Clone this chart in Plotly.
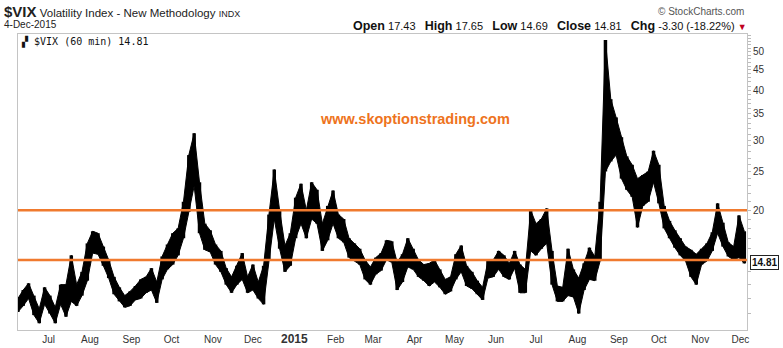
import pandas as pd
import plotly.graph_objects as go
import math

# ---- data ----
dates = pd.date_range("2014-06-08", periods=137, freq="4D")
vix_high = [12.0,12.6,13.1,12.2,11.3,12.8,12.2,11.4,13.0,13.0,
            15.4,13.0,14.0,16.5,17.7,17.5,16.2,15.0,13.6,12.8,
            12.2,12.5,12.9,13.4,13.6,14.3,13.2,15.3,16.4,17.5,
            18.0,21.0,27.5,31.2,23.5,18.5,17.8,16.4,15.8,14.3,
            13.6,14.5,15.6,13.6,14.6,13.2,14.5,19.5,25.3,20.0,
            16.3,17.5,21.5,23.3,20.0,23.5,22.5,18.5,20.5,22.4,
            19.5,19.0,17.0,16.5,16.0,15.0,14.4,15.2,15.6,16.8,
            16.7,14.8,15.5,17.0,16.0,15.0,14.6,14.7,15.0,14.2,
            13.4,13.6,15.5,16.3,14.5,14.0,13.3,12.8,14.9,15.0,
            15.8,15.4,14.7,15.8,14.6,14.2,20.0,18.5,19.0,20.2,
            15.8,12.9,12.8,16.0,14.2,13.5,14.7,16.1,15.3,21.0,
            53.5,38.0,34.2,30.5,27.3,26.0,24.0,24.5,25.0,28.2,
            26.0,20.5,18.8,17.8,17.0,16.2,15.9,15.5,16.0,16.5,
            17.6,20.8,18.6,16.6,16.2,19.4,17.7]
vix_low = [11.1,11.5,12.0,10.9,10.4,11.6,11.0,10.4,11.6,10.8,
           11.8,11.5,12.2,13.3,15.6,15.5,14.5,13.5,12.3,11.8,
           11.4,11.5,11.9,12.0,12.4,12.6,11.7,13.4,14.2,14.6,
           15.4,17.0,19.8,23.0,17.5,15.9,15.7,14.6,14.0,13.0,
           12.4,13.0,13.4,12.4,12.6,12.0,11.6,15.0,19.0,16.0,
           14.0,14.5,17.0,18.5,17.0,19.0,18.5,15.8,16.8,18.5,
           17.0,16.6,15.2,14.9,14.6,13.4,13.0,13.8,14.1,15.0,
           14.8,12.6,13.2,14.4,14.2,13.6,13.3,12.9,13.2,12.8,
           12.3,12.5,13.4,14.0,12.9,12.7,12.3,11.9,13.5,13.6,
           14.2,13.6,13.4,14.3,12.4,12.4,15.8,15.4,16.0,16.5,
           13.0,11.8,11.8,12.2,12.1,11.0,12.6,13.4,13.3,14.9,
           25.0,26.5,27.5,24.0,22.5,21.6,18.1,20.5,21.0,23.5,
           20.8,18.0,17.0,16.1,15.4,14.9,13.6,13.0,14.6,14.9,
           15.8,17.5,16.2,15.3,15.0,15.2,14.7]
last_close = 14.81
levels = [20, 15]

month_ticks = ["2014-07-01","2014-08-01","2014-09-01","2014-10-01","2014-11-01","2014-12-01",
               "2015-01-01","2015-02-01","2015-03-01","2015-04-01","2015-05-01","2015-06-01",
               "2015-07-01","2015-08-01","2015-09-01","2015-10-01","2015-11-01","2015-12-01"]
month_labels = ["Jul","Aug","Sep","Oct","Nov","Dec",
                "<b><span style='font-size:12px'>2015</span></b>","Feb","Mar","Apr","May","Jun",
                "Jul","Aug","Sep","Oct","Nov","Dec"]
y_labeled = [20, 25, 30, 35, 40, 45, 50]
y_minor = [11, 12, 13, 14, 16, 17, 18, 19, 21, 22, 23, 24, 26, 27, 28, 29,
           31, 32, 33, 34, 36, 37, 38, 39, 41, 42, 43, 44, 46, 47, 48, 49, 51, 52, 53, 54, 55]

# ---- figure ----
fig = go.Figure()
# thin continuous core of the price range
fig.add_trace(go.Scatter(x=dates, y=vix_low, mode="lines",
                         line=dict(color="black", width=1),
                         hoverinfo="skip", showlegend=False))
fig.add_trace(go.Scatter(x=dates, y=vix_high, mode="lines", fill="tonexty",
                         fillcolor="black",
                         line=dict(color="black", width=1),
                         hoverinfo="skip", showlegend=False))
# vertical range bars (jagged candle texture)
fig.add_trace(go.Bar(
    x=dates, base=vix_low, y=[h - l for h, l in zip(vix_high, vix_low)],
    width=2.6 * 86400000, marker=dict(color="black", line=dict(width=0)),
    hoverinfo="skip", showlegend=False))

ORANGE = "#F07A2E"
for lv in levels:
    fig.add_hline(y=lv, line=dict(color=ORANGE, width=2.5), layer="above")

tickvals = sorted(y_labeled + y_minor)
ticktext = [str(v) if v in y_labeled else "" for v in tickvals]

fig.update_layout(
    width=783, height=348,
    margin=dict(l=18, r=36, t=34, b=18, autoexpand=False),
    paper_bgcolor="white", plot_bgcolor="white",
    font=dict(family="Liberation Sans, Arial", size=10, color="#333"),
    xaxis=dict(type="date", range=["2014-06-08 02:00", "2015-12-06"],
               automargin=False,
               tickmode="array", tickvals=month_ticks, ticktext=month_labels,
               ticks="", showgrid=False, zeroline=False,
               showline=True, linecolor="#c4c4c4", linewidth=1, mirror=True,
               tickfont=dict(size=10, color="#333")),
    yaxis=dict(type="log", range=[1.0, 1.7435], side="right",
               automargin=False,
               tickmode="array", tickvals=tickvals, ticktext=ticktext,
               ticks="outside", ticklen=3, tickcolor="#bbb",
               showgrid=False, zeroline=False,
               showline=True, linecolor="#c4c4c4", linewidth=1, mirror=True,
               tickfont=dict(size=10, color="#333")),
)

def px2paper(px, py):
    return (px - 18) / 729.0, (330 - py) / 296.0

ann = []
x, y = px2paper(2, 11)
ann.append(dict(x=x, y=y, xanchor="left", yanchor="middle",
                text="<b><span style='font-size:15px'>$VIX</span></b> Volatility Index - New Methodology <span style='font-size:9px'>INDX</span>",
                font=dict(size=11.5, color="#222")))
x, y = px2paper(2, 24)
ann.append(dict(x=x, y=y, xanchor="left", yanchor="middle", text="4-Dec-2015",
                font=dict(size=10, color="#222")))
x, y = px2paper(19, 41)
ann.append(dict(x=x, y=y, xanchor="left", yanchor="middle",
                text="<b>▞</b> $VIX (60 min) " + f"{last_close:.2f}",
                font=dict(family="DejaVu Sans Mono", size=10, color="#111")))
x, y = px2paper(746, 12)
ann.append(dict(x=x, y=y, xanchor="right", yanchor="middle", text="© StockCharts.com",
                font=dict(size=10, color="#555")))
x, y = px2paper(749, 26)
sp = "&nbsp;&nbsp;&nbsp;"
ann.append(dict(x=x, y=y, xanchor="right", yanchor="middle",
                text=("<b><span style='font-size:12.5px'>Open</span></b> 17.43" + sp +
                      "<b><span style='font-size:12.5px'>High</span></b> 17.65" + sp +
                      "<b><span style='font-size:12.5px'>Low</span></b> 14.69" + sp +
                      "<b><span style='font-size:12.5px'>Close</span></b> 14.81" + sp +
                      "<b><span style='font-size:12.5px'>Chg</span></b> -3.30 (-18.22%) "
                      "<span style='color:#c00020;font-size:9px'>▼</span>"),
                font=dict(size=11, color="#111")))
x, y = px2paper(415, 119)
ann.append(dict(x=x, y=y, xanchor="center", yanchor="middle",
                text="<b>www.skoptionstrading.com</b>",
                font=dict(size=14.5, color="#EE7320")))
# last price box on the right axis
ann.append(dict(x=1.004, xref="paper", y=math.log10(last_close), yref="y",
                xanchor="left", yanchor="middle", text=f"<b>{last_close:.2f}</b>",
                showarrow=False, bgcolor="white", bordercolor="#222", borderwidth=1,
                borderpad=1, font=dict(size=10, color="#111")))
for a in ann:
    a.setdefault("xref", "paper")
    a.setdefault("yref", "paper")
    a.setdefault("showarrow", False)
fig.update_layout(annotations=ann)

fig.write_html("out.html")
